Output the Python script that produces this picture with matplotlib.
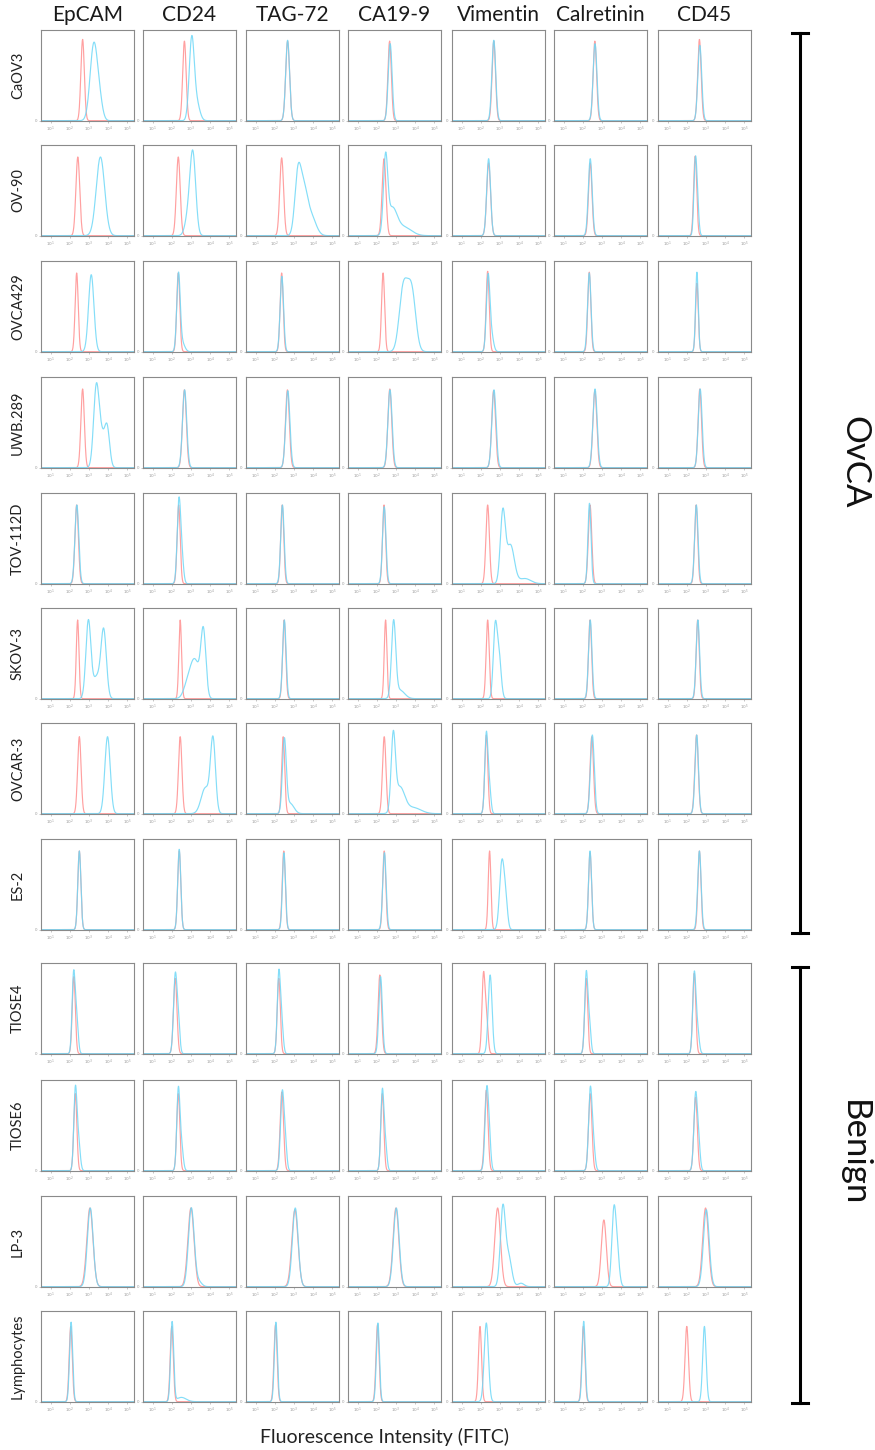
import numpy as np
import matplotlib
matplotlib.use("Agg")
import matplotlib.pyplot as plt
from matplotlib.lines import Line2D

plt.rcParams['font.family'] = ['Lato', 'DejaVu Sans']

# ---------------- data ----------------
markers = ["EpCAM", "CD24", "TAG-72", "CA19-9", "Vimentin", "Calretinin", "CD45"]
cell_lines = ["CaOV3", "OV-90", "OVCA429", "UWB.289", "TOV-112D", "SKOV-3",
              "OVCAR-3", "ES-2", "TIOSE4", "TIOSE6", "LP-3", "Lymphocytes"]
groups = ["OvCA", "Benign"]
x_tick_exponents = [1, 2, 3, 4, 5]
x_label = "Fluorescence Intensity (FITC)"

# Histogram peaks: (log10 position, log10 spread, relative height)
# isotype control (red)
isotype_peaks = [
    [[(2.67, .09, .95)], [(2.66, .09, .93)], [(2.67, .1, .93)], [(2.67, .09, .93)], [(2.68, .09, .93)], [(2.63, .09, .93)], [(2.66, .09, .95)]],
    [[(2.42, .1, .92)], [(2.34, .1, .92)], [(2.36, .1, .91)], [(2.38, .1, .9)], [(2.41, .1, .85)], [(2.39, .09, .85)], [(2.44, .08, .93)]],
    [[(2.36, .08, .92)], [(2.34, .08, .92)], [(2.36, .08, .92)], [(2.33, .08, .92)], [(2.36, .08, .94)], [(2.34, .08, .93)], [(2.53, .07, .8)]],
    [[(2.67, .09, .92)], [(2.66, .1, .91)], [(2.66, .1, .91)], [(2.68, .1, .92)], [(2.67, .1, .9)], [(2.63, .1, .9)], [(2.68, .09, .92)]],
    [[(2.36, .09, .92)], [(2.36, .08, .92)], [(2.39, .08, .92)], [(2.38, .08, .92)], [(2.36, .09, .92)], [(2.38, .09, .92)], [(2.49, .08, .92)]],
    [[(2.41, .07, .92)], [(2.44, .07, .92)], [(2.49, .08, .92)], [(2.46, .07, .92)], [(2.36, .08, .92)], [(2.38, .08, .92)], [(2.57, .08, .92)]],
    [[(2.50, .09, .9)], [(2.44, .09, .9)], [(2.44, .08, .9)], [(2.39, .09, .9)], [(2.29, .08, .92)], [(2.47, .09, .9)], [(2.51, .09, .92)]],
    [[(2.50, .08, .92)], [(2.39, .08, .92)], [(2.47, .08, .92)], [(2.39, .08, .92)], [(2.46, .07, .92)], [(2.38, .08, .9)], [(2.66, .08, .92)]],
    [[(2.21, .08, .9)], [(2.18, .09, .88)], [(2.21, .08, .88)], [(2.16, .09, .92)], [(2.14, .08, .9), (2.3, .08, .4)], [(2.18, .08, .88)], [(2.39, .08, .94)]],
    [[(2.29, .08, .9)], [(2.34, .08, .9)], [(2.37, .09, .92)], [(2.29, .08, .9)], [(2.29, .09, .94)], [(2.39, .09, .9)], [(2.46, .09, .86)]],
    [[(3.05, .16, .92)], [(3.00, .16, .92)], [(3.05, .16, .9)], [(3.00, .15, .92)], [(2.88, .15, .92)], [(3.10, .13, .78)], [(2.98, .15, .92)]],
    [[(2.05, .08, .88)], [(2.00, .08, .88)], [(2.04, .08, .9)], [(2.04, .08, .9)], [(1.96, .08, .88)], [(2.03, .08, .88)], [(2.00, .09, .88)]],
]
# specific antibody (blue)
stain_peaks = [
    [[(3.25, .19, .88), (3.55, .16, .2)], [(3.04, .13, .94), (3.3, .16, .2)], [(2.67, .1, .94)], [(2.70, .1, .9)], [(2.68, .1, .94)], [(2.64, .1, .9)], [(2.68, .1, .88)]],
    [[(3.60, .22, .92)], [(3.10, .15, .94), (2.85, .16, .2)], [(3.2, .16, .65), (3.5, .2, .5), (3.9, .25, .22)], [(2.46, .11, .85), (2.8, .25, .3), (3.4, .4, .1)], [(2.41, .1, .9)], [(2.39, .1, .9)], [(2.43, .07, .65), (2.53, .08, .5)]],
    [[(3.12, .14, .9)], [(2.35, .09, .9), (2.55, .13, .1)], [(2.37, .09, .88)], [(3.35, .2, .62), (3.85, .2, .6), (3.6, .2, .3)], [(2.38, .09, .85), (2.55, .11, .2)], [(2.34, .09, .92)], [(2.53, .07, .93)]],
    [[(3.38, .14, .9), (3.95, .13, .45), (3.65, .16, .35)], [(2.67, .11, .91)], [(2.68, .11, .9)], [(2.69, .11, .91)], [(2.69, .11, .91)], [(2.64, .11, .92)], [(2.70, .1, .92)]],
    [[(2.37, .1, .92)], [(2.37, .09, .93), (2.52, .09, .3)], [(2.40, .09, .92)], [(2.39, .09, .9)], [(3.15, .13, .82), (3.55, .2, .45), (4.3, .3, .06)], [(2.35, .08, .94)], [(2.50, .09, .92)]],
    [[(2.97, .13, .9), (3.77, .14, .78), (3.4, .2, .25)], [(3.65, .13, .75), (3.2, .25, .45), (2.8, .2, .12)], [(2.50, .09, .92)], [(2.88, .11, .88), (3.2, .25, .1)], [(2.75, .1, .8), (2.95, .11, .5)], [(2.39, .09, .92)], [(2.58, .09, .92)]],
    [[(3.97, .14, .9)], [(4.15, .13, .85), (3.75, .22, .3)], [(2.50, .1, .85), (2.8, .2, .12)], [(2.86, .11, .85), (3.2, .25, .3), (3.9, .4, .07)], [(2.29, .08, .92), (2.45, .08, .3)], [(2.50, .1, .92)], [(2.52, .09, .92)]],
    [[(2.50, .08, .92)], [(2.39, .08, .94)], [(2.48, .08, .9)], [(2.40, .09, .9)], [(3.10, .12, .78), (3.30, .1, .3)], [(2.38, .08, .92)], [(2.66, .09, .92)]],
    [[(2.20, .08, .92), (2.36, .08, .4)], [(2.18, .09, .9), (2.34, .08, .35)], [(2.21, .08, .92), (2.36, .08, .35)], [(2.20, .09, .9)], [(2.49, .1, .92)], [(2.18, .08, .92), (2.34, .08, .35)], [(2.39, .08, .9), (2.55, .09, .3)]],
    [[(2.29, .08, .92), (2.45, .09, .35)], [(2.34, .08, .92), (2.5, .09, .3)], [(2.39, .09, .9), (2.55, .08, .3)], [(2.29, .08, .92), (2.45, .08, .3)], [(2.31, .09, .92), (2.45, .08, .3)], [(2.39, .09, .92), (2.55, .09, .3)], [(2.46, .09, .88), (2.62, .08, .3)]],
    [[(3.07, .15, .92)], [(3.02, .15, .92), (3.4, .16, .06)], [(3.07, .15, .92)], [(3.02, .15, .92)], [(3.15, .13, .9), (3.45, .16, .35), (4.1, .16, .04)], [(3.62, .11, .85), (3.8, .11, .35)], [(3.02, .15, .9)]],
    [[(2.07, .08, .93)], [(2.02, .08, .93), (2.5, .25, .05)], [(2.06, .08, .93)], [(2.06, .08, .92)], [(2.29, .11, .92)], [(2.05, .08, .94)], [(2.92, .09, .88)]],
]

# ---------------- layout (pixels) ----------------
W, H = 875, 1450
fig = plt.figure(figsize=(W / 100, H / 100), dpi=100)
col_left = [41, 143, 246, 348, 452, 554, 658]
row_top = [30, 145, 261, 377, 493, 608, 723, 839, 963, 1080, 1196, 1311]
pw, ph = 93, 91

RED = "#ff8f8f"
BLUE = "#6fd8f7"
grid = np.linspace(0.5, 5.35, 600)
xs = 10 ** grid


def curve(peaks):
    y = np.zeros_like(grid)
    for c, s, h in peaks:
        y += h * np.exp(-0.5 * ((grid - c) / s) ** 2)
    return y


for r, name in enumerate(cell_lines):
    for c, mk in enumerate(markers):
        ax = fig.add_axes([col_left[c] / W, 1 - (row_top[r] + ph) / H, pw / W, ph / H])
        ax.plot(xs, curve(isotype_peaks[r][c]), color=RED, lw=0.85, alpha=0.85)
        ax.plot(xs, curve(stain_peaks[r][c]), color=BLUE, lw=0.85, alpha=0.85)
        ax.set_xscale('log')
        ax.set_xlim(10 ** 0.5, 10 ** 5.35)
        ax.set_ylim(-0.004, 1.06)
        ax.set_xticks([10 ** e for e in x_tick_exponents])
        ax.set_xticklabels([f"$10^{e}$" for e in x_tick_exponents], fontsize=3, color="#999999")
        ax.xaxis.set_minor_locator(matplotlib.ticker.LogLocator(subs=np.arange(2, 10)))
        ax.xaxis.set_minor_formatter(matplotlib.ticker.NullFormatter())
        ax.set_yticks([0])
        ax.set_yticklabels(["0"], fontsize=3, color="#999999")
        ax.tick_params(axis='both', which='major', length=1.5, width=0.4, colors="#999999", pad=1.5)
        ax.tick_params(axis='both', which='minor', length=0.8, width=0.3, colors="#bbbbbb")
        for sp in ax.spines.values():
            sp.set_color("#8a8a8a")
            sp.set_linewidth(0.8)
    fig.text(18 / W, 1 - (row_top[r] + ph / 2) / H, name, rotation=90,
             ha='center', va='center', fontsize=10.5, color="#222222")

for c, mk in enumerate(markers):
    fig.text((col_left[c] + pw / 2) / W, 1 - 15 / H, mk, ha='center', va='center',
             fontsize=15, color="#1a1a1a")

# group brackets
bx = 800
for g, (ytop, ybot), ylab in zip(groups, [(33, 933), (967, 1403)], [462, 1153]):
    fig.add_artist(Line2D([bx / W, bx / W], [1 - ytop / H, 1 - ybot / H], color='black', lw=2.2))
    for yy in (ytop, ybot):
        fig.add_artist(Line2D([(bx - 8) / W, (bx + 8) / W], [1 - yy / H, 1 - yy / H], color='black', lw=2.2))
    fig.text(854 / W, 1 - ylab / H, g, rotation=-90, ha='center', va='center',
             fontsize=25, color="#111111")

fig.text(385 / W, 1 - 1437 / H, x_label, ha='center', va='center', fontsize=14, color="#222222")

fig.savefig("out.png", dpi=100)
